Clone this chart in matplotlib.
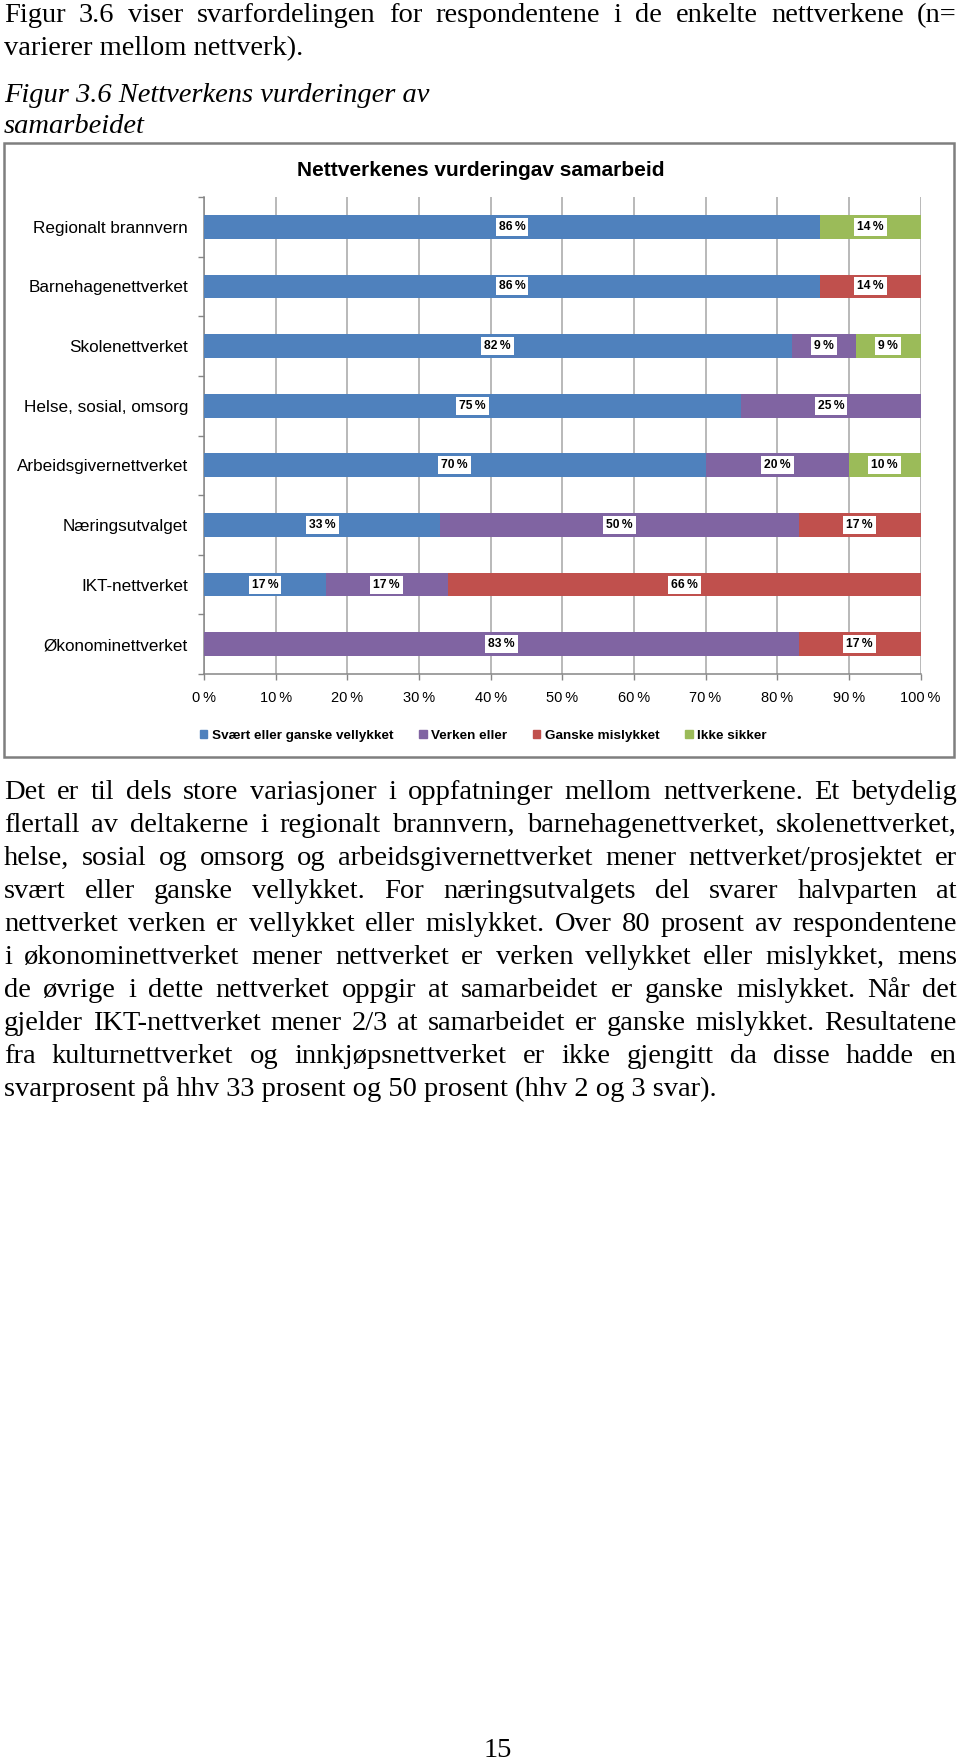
import matplotlib
matplotlib.use('Agg')
import matplotlib.pyplot as plt
from matplotlib.patches import Rectangle, Patch
import numpy as np

W, H = 960, 1763

# chart data (top to bottom)
categories = ['Regionalt brannvern', 'Barnehagenettverket', 'Skolenettverket',
              'Helse, sosial, omsorg', 'Arbeidsgivernettverket', 'Næringsutvalget',
              'IKT-nettverket', 'Økonominettverket']
series_names = ['Svært eller ganske vellykket', 'Verken eller', 'Ganske mislykket', 'Ikke sikker']
vellykket = [86, 86, 82, 75, 70, 33, 17, 0]
verken = [0, 0, 9, 25, 20, 50, 17, 83]
mislykket = [0, 14, 0, 0, 0, 17, 66, 17]
ikke_sikker = [14, 0, 9, 0, 10, 0, 0, 0]
colors = ['#4F81BD', '#8064A2', '#C0504D', '#9BBB59']
xticks = [0, 10, 20, 30, 40, 50, 60, 70, 80, 90, 100]

chart_title = 'Nettverkenes vurderingav samarbeid'

intro = ['Figur 3.6 viser svarfordelingen for respondentene i de enkelte nettverkene (n=',
         'varierer mellom nettverk).']
caption = ['Figur 3.6 Nettverkens vurderinger av', 'samarbeidet']
paragraph = [
    'Det er til dels store variasjoner i oppfatninger mellom nettverkene. Et betydelig',
    'flertall av deltakerne i regionalt brannvern, barnehagenettverket, skolenettverket,',
    'helse, sosial og omsorg og arbeidsgivernettverket mener nettverket/prosjektet er',
    'svært eller ganske vellykket. For næringsutvalgets del svarer halvparten at',
    'nettverket verken er vellykket eller mislykket.  Over 80 prosent av respondentene',
    'i økonominettverket mener nettverket er verken vellykket eller mislykket, mens',
    'de øvrige i dette nettverket oppgir at samarbeidet er ganske mislykket. Når det',
    'gjelder IKT-nettverket mener 2/3 at samarbeidet er ganske mislykket.  Resultatene',
    'fra kulturnettverket og innkjøpsnettverket er ikke gjengitt da disse hadde en',
    'svarprosent på hhv 33 prosent og 50 prosent (hhv 2 og 3 svar).',
]
page_no = '15'

fig = plt.figure(figsize=(W / 100, H / 100), dpi=100)
renderer = fig.canvas.get_renderer()


def fx(px):
    return px / W


def fy(py):
    return 1 - py / H


serif = dict(family='Liberation Serif', size=20.5)
sans = ['Liberation Sans', 'DejaVu Sans']
gray = '#868686'
TX0, TX1 = 4, 957


def text_line(s, y, justify=False, **kw):
    if not justify:
        fig.text(fx(TX0), fy(y), s, va='baseline', ha='left', **kw)
        return
    words = s.split()
    items = [fig.text(0, fy(y), w, va='baseline', ha='left', **kw) for w in words]
    widths = [t.get_window_extent(renderer).width for t in items]
    gap = (TX1 - TX0 - sum(widths)) / (len(words) - 1)
    x = TX0
    for t, w in zip(items, widths):
        t.set_x(fx(x))
        x += w + gap


# text above the chart
text_line(intro[0], 22, justify=True, **serif)
text_line(intro[1], 55, **serif)
text_line(caption[0], 102, style='italic', **serif)
text_line(caption[1], 133, style='italic', **serif)

# chart frame and title
fig.patches.append(Rectangle((fx(4), fy(757)), fx(954) - fx(4), (757 - 143) / H,
                             transform=fig.transFigure, fill=False, ec='#7f7f7f', lw=1.8))
fig.text(fx(481), fy(170), chart_title, ha='center', va='center',
         fontsize=15, fontweight='bold', family=sans)

ax = fig.add_axes([fx(204), fy(674), fx(920.5) - fx(204), (674 - 197) / H])
y = np.arange(len(categories))
left = np.zeros(len(categories))
for vals, color, name in zip([vellykket, verken, mislykket, ikke_sikker], colors, series_names):
    vals = np.array(vals)
    ax.barh(y, vals, left=left, height=0.4, color=color, label=name, zorder=3)
    for yi, v, l in zip(y, vals, left):
        if v > 0:
            ax.text(l + v / 2, yi, f'{v}\u2009%', ha='center', va='center',
                    fontsize=8.7, fontweight='bold', family=sans, zorder=4,
                    bbox=dict(boxstyle='square,pad=0.25', fc='white', ec='none'))
    left += vals

ax.set_xlim(0, 100)
ax.set_ylim(len(categories) - 0.5, -0.5)
ax.set_xticks(xticks)
ax.set_xticklabels([f'{v}\u2009%' for v in xticks], fontsize=10.5, family=sans)
ax.set_yticks(y)
ax.set_yticklabels(categories, fontsize=12.3, family=sans)
ax.set_yticks(np.arange(-0.5, len(categories), 1), minor=True)
ax.tick_params(axis='y', which='major', length=0, pad=11.5)
ax.tick_params(axis='y', which='minor', length=4, color=gray, width=1)
ax.tick_params(axis='x', length=4.5, color=gray, width=1, pad=8)
ax.grid(axis='x', color='#a6a6a6', lw=1.1, zorder=0)
ax.set_axisbelow(True)
for s in ['top', 'right']:
    ax.spines[s].set_visible(False)
for s in ['left', 'bottom']:
    ax.spines[s].set_color(gray)
    ax.spines[s].set_linewidth(1.1)

handles = [Patch(color=c) for c in colors]
fig.legend(handles, series_names, loc='center', bbox_to_anchor=(fx(483.5), fy(736)),
           ncol=4, frameon=False, prop=dict(family=sans, weight='bold', size=9.7),
           handlelength=0.55, handleheight=0.55, handletextpad=0.35, columnspacing=1.9)

# paragraph below the chart
for i, line in enumerate(paragraph):
    text_line(line, 799 + 33 * i, justify=(i < len(paragraph) - 1), **serif)

fig.text(fx(497.5), fy(1757), page_no, ha='center', va='baseline', **serif)

fig.savefig('out.png', dpi=100)
